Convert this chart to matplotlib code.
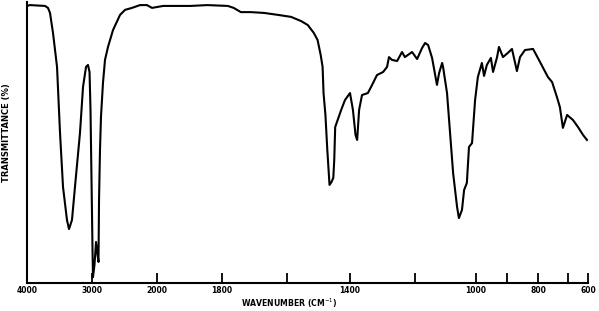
import matplotlib
matplotlib.use("Agg")
import matplotlib.pyplot as plt
import numpy as np

# IR spectrum, values (wavenumber in cm-1, transmittance in %)
wavenumber = [
    4000, 3954, 3723, 3677, 3646, 3600, 3538, 3492, 3446, 3385,
    3354, 3308, 3262, 3185, 3138, 3092, 3062, 3038, 3023, 3008,
    2992, 2985, 2962, 2938, 2915, 2900, 2892, 2877, 2862, 2831,
    2800, 2754, 2677, 2569, 2492, 2385, 2262, 2154, 2077, 2000,
    1981, 1897, 1845, 1782, 1764, 1742, 1711, 1670, 1627, 1587,
    1555, 1534, 1515, 1503, 1493, 1487, 1484, 1478, 1472, 1465,
    1459, 1453, 1450, 1447, 1437, 1428, 1416, 1400, 1391, 1383,
    1378, 1372, 1363, 1345, 1332, 1317, 1298, 1286, 1280, 1271,
    1255, 1240, 1231, 1209, 1193, 1177, 1167, 1157, 1144, 1128,
    1121, 1111, 1108, 1095, 1085, 1075, 1062, 1056, 1046, 1039,
    1030, 1023, 1013, 1003, 994, 981, 974, 965, 952, 945,
    932, 926, 913, 897, 884, 868, 858, 842, 816, 793,
    767, 753, 737, 727, 717, 703, 675, 650, 625, 605,
]
transmittance = [
    98.6, 98.9, 98.6, 97.9, 96.1, 89.0, 76.9, 53.4, 34.2, 22.4,
    19.2, 22.4, 34.2, 53.4, 69.8, 76.9, 77.6, 75.1, 61.6, 36.7,
    11.7, 2.1, 6.4, 14.6, 10.0, 7.5, 29.5, 47.3, 59.1, 71.2,
    79.4, 84.0, 90.0, 95.4, 97.2, 97.9, 98.9, 98.9, 97.9, 98.2,
    98.6, 98.6, 98.9, 98.6, 97.9, 96.4, 96.4, 96.1, 95.4, 94.7,
    93.2, 91.8, 89.0, 86.5, 81.1, 76.9, 67.6, 59.8, 47.3, 34.9,
    35.9, 37.4, 43.8, 55.5, 58.7, 61.6, 65.1, 67.6, 61.6, 52.7,
    50.9, 61.6, 66.9, 67.6, 70.5, 74.0, 75.1, 76.9, 80.4, 79.4,
    79.0, 82.2, 80.4, 82.2, 79.7, 83.6, 85.4, 84.7, 80.1, 70.5,
    74.7, 78.3, 76.9, 67.6, 53.4, 39.1, 27.0, 23.1, 26.0, 33.1,
    35.6, 48.4, 49.8, 65.1, 73.3, 78.3, 73.7, 77.6, 80.1, 75.1,
    80.4, 84.0, 80.4, 81.9, 83.3, 75.4, 80.4, 82.9, 83.3, 78.6,
    73.3, 71.5, 66.2, 62.6, 55.2, 59.8, 58.0, 55.5, 52.7, 50.9,
]

tick_values = [4000, 3000, 2000, 1800, 1600, 1400, 1200, 1000, 900, 800, 700, 600]
tick_labels = ["4000", "3000", "2000", "1800", "", "1400", "", "1000", "", "800", "", "600"]
# the printed chart paper changes scale along the axis
tick_pos = [27, 92, 157, 222, 287, 350, 415, 476, 507, 538, 568, 588]

wn_inc = np.array(tick_values[::-1], dtype=float)
# negated so the transform increases with wavenumber; xlim then flips it
neg_pos = -np.array(tick_pos[::-1], dtype=float)


def forward(w):
    return np.interp(w, wn_inc, neg_pos)


def inverse(p):
    return np.interp(p, neg_pos, wn_inc)


fig = plt.figure(figsize=(5.99, 3.11), dpi=100)
ax = fig.add_axes([27 / 599, 28 / 311, 561 / 599, 281 / 311])

ax.plot(wavenumber, transmittance, color="black", lw=1.5, solid_joinstyle="round")

ax.set_xscale("function", functions=(forward, inverse))
ax.set_xlim(4000, 600)
ax.set_ylim(0, 100)

ax.set_xticks(tick_values)
ax.set_xticklabels(tick_labels, fontsize=5.5, fontweight="bold")
ax.minorticks_off()
ax.tick_params(axis="x", direction="in", length=7, width=1.3, pad=2.5)
ax.set_yticks([])

ax.spines["top"].set_visible(False)
ax.spines["right"].set_visible(False)
ax.spines["left"].set_linewidth(1.5)
ax.spines["bottom"].set_linewidth(1.5)

ax.set_xlabel("WAVENUMBER (CM$^{-1}$)", fontsize=5.6, fontweight="bold")
ax.xaxis.set_label_coords((289 - 27) / 561, -0.05)
fig.text(7 / 599, 1 - 133 / 311, "TRANSMITTANCE (%)", rotation=90,
         ha="center", va="center", fontsize=6, fontweight="bold")

fig.savefig("out.png", dpi=100)
